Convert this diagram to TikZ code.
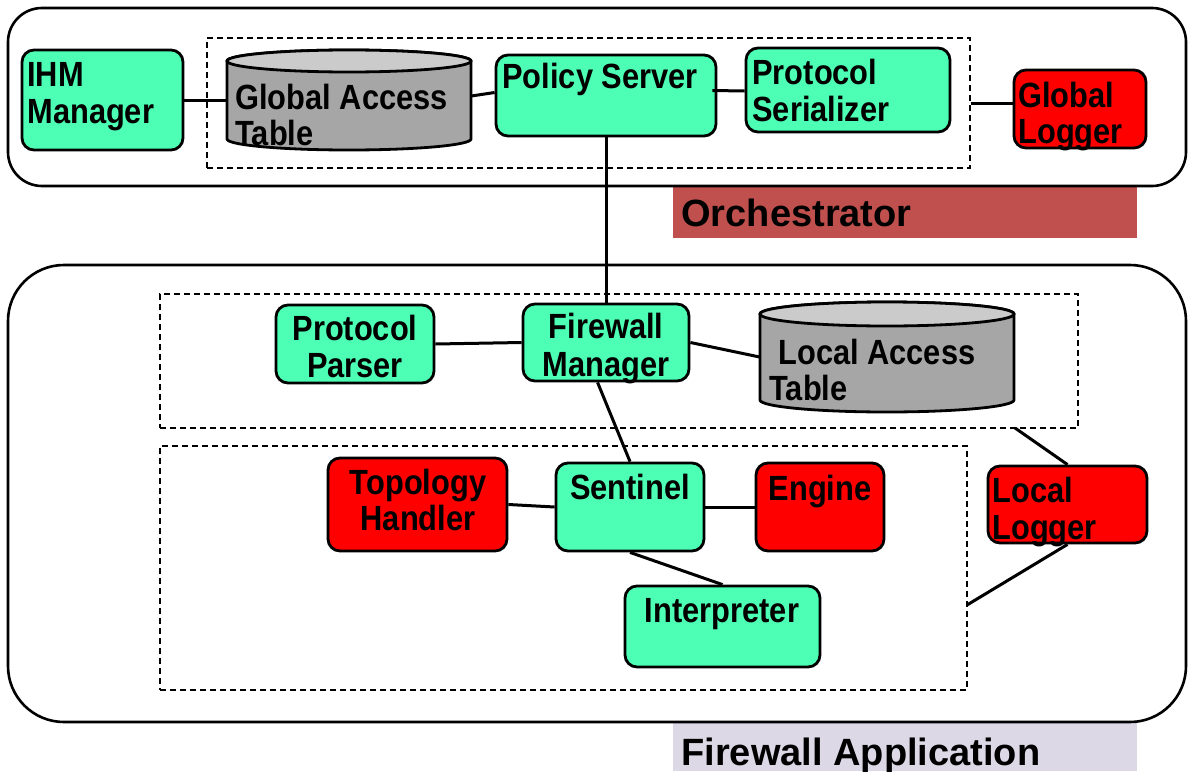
\documentclass[tikz,border=0pt]{standalone}
\usepackage{fontspec}
\setmainfont{Liberation Sans}[FakeStretch=0.88]
\newfontfamily\titlefont{Liberation Sans}
\usetikzlibrary{fit,calc}

\definecolor{mint}{RGB}{77,255,180}
\definecolor{logred}{RGB}{255,0,0}
\definecolor{orchred}{RGB}{192,80,77}
\definecolor{applav}{RGB}{220,216,230}
\definecolor{drumbody}{RGB}{166,166,166}
\definecolor{drumtop}{RGB}{203,203,203}

\begin{document}
\begin{tikzpicture}[x=0.5pt,y=-0.5pt,
  font=\bfseries\fontsize{17.5}{18}\selectfont,
  box/.style={draw=black, line width=1.4pt, rounded corners=6pt, inner sep=0pt},
  gbox/.style={box, fill=mint},
  rbox/.style={box, fill=logred},
  group/.style={draw=black, line width=0.7pt, dash pattern=on 3pt off 2pt, inner sep=0pt},
  shell/.style={draw=black, line width=1.3pt},
  slot/.style={inner sep=0pt},
  txt/.style={inner sep=0pt, anchor=base west},
  ctxt/.style={inner sep=0pt, anchor=base},
  title/.style={inner sep=0pt, anchor=base west, font=\titlefont\bfseries\fontsize{19}{20}\selectfont},
  link/.style={line width=1.5pt},
  drum/.style={draw=black, line width=1.4pt}
]
\useasboundingbox (0,0) rectangle (1188,771);

% ---------- layer labels ----------
\node[slot, fill=orchred, fit={(673,186)(1137,238)}] (orch-lab) {};
\node[title] (orch-title) at (681,226) {Orchestrator};
\node[slot, fill=applav, fit={(673,722)(1137,771)}] (app-lab) {};
\node[title] (app-title) at (681,765) {Firewall Application};

% ---------- outer containers ----------
\draw[shell, rounded corners=17pt] (8,8) rectangle (1186,186);
\draw[shell, rounded corners=28pt] (8,265) rectangle (1186,722);

% ---------- dashed groups ----------
\node[group, fit={(207,38)(970,168)}] (grp-orch) {};
\node[group, fit={(160,294)(1078,428)}] (grp-top) {};
\node[group, fit={(160,446)(967,690)}] (grp-bot) {};

% ---------- orchestrator components ----------
\node[gbox, fit={(22,50)(183,150)}] (ihm) {};
\node[txt] (ihm-l1) at (27,86) {IHM};
\node[txt] (ihm-l2) at (27,123) {Manager};

% global access table (drum)
\node[slot, fit={(227,50)(471,150)}] (gat) {};
\filldraw[drum, fill=drumbody] (227,61) -- (227,139)
  arc[start angle=180, end angle=360, x radius=61pt, y radius=5.5pt]
  -- (471,61)
  arc[start angle=0, end angle=180, x radius=61pt, y radius=5.5pt] -- cycle;
\filldraw[drum, fill=drumtop] (349,61) ellipse[x radius=61pt, y radius=5.5pt];
\node[txt] (gat-l1) at (235,109) {Global Access};
\node[txt] (gat-l2) at (235,145) {Table};

\node[gbox, fit={(496,55)(716,136)}] (ps) {};
\node[txt] (ps-l1) at (502,88) {Policy Server};

\node[gbox, fit={(746,48)(950,132)}] (ser) {};
\node[txt] (ser-l1) at (752,84) {Protocol};
\node[txt] (ser-l2) at (752,121) {Serializer};

\node[rbox, fit={(1014,70)(1146,148)}] (glog) {};
\node[txt] (glog-l1) at (1018,107) {Global};
\node[txt] (glog-l2) at (1018,143) {Logger};

% ---------- firewall application components ----------
\node[gbox, fit={(276,305)(434,383)}] (pp) {};
\node[ctxt] (pp-l1) at (355,340) {Protocol};
\node[ctxt] (pp-l2) at (355,377) {Parser};

\node[gbox, fit={(523,304)(689,381)}] (fm) {};
\node[ctxt] (fm-l1) at (606,338) {Firewall};
\node[ctxt] (fm-l2) at (606,376) {Manager};

% local access table (drum)
\node[slot, fit={(760,302)(1014,412)}] (lat) {};
\filldraw[drum, fill=drumbody] (760,314) -- (760,400)
  arc[start angle=180, end angle=360, x radius=63.5pt, y radius=6pt]
  -- (1014,314)
  arc[start angle=0, end angle=180, x radius=63.5pt, y radius=6pt] -- cycle;
\filldraw[drum, fill=drumtop] (887,314) ellipse[x radius=63.5pt, y radius=6pt];
\node[txt] (lat-l1) at (778,364) {Local Access};
\node[txt] (lat-l2) at (769,400) {Table};

\node[rbox, fit={(328,458)(507,551)}] (topo) {};
\node[ctxt] (topo-l1) at (418,494) {Topology};
\node[ctxt] (topo-l2) at (418,530) {Handler};

\node[gbox, fit={(556,463)(704,551)}] (sen) {};
\node[ctxt] (sen-l1) at (630,499) {Sentinel};

\node[rbox, fit={(756,463)(884,551)}] (eng) {};
\node[ctxt] (eng-l1) at (820,500) {Engine};

\node[rbox, fit={(988,466)(1147,543)}] (llog) {};
\node[txt] (llog-l1) at (992,502) {Local};
\node[txt] (llog-l2) at (992,539) {Logger};

\node[gbox, fit={(625,586)(820,667)}] (int) {};
\node[ctxt] (int-l1) at (722,622) {Interpreter};

% ---------- connectors ----------
\coordinate (top-tap) at (1015,428);
\coordinate (bot-tap) at (967,605);

\draw[link] (ihm.east) -- (gat.west);
\draw[link] ($(gat.east)+(0,-4)$) -- ($(ps.west)+(0,-3)$);
\draw[link] ($(ps.east)+(-5,-5)$) -- ($(ser.west)+(0,1)$);
\draw[link] ($(grp-orch.east)$) -- ($(glog.west)+(0,-6)$);
\draw[link] (ps.south) -- (fm.north);
\draw[link] (pp.east) -- (fm.west);
\draw[link] (fm.east) -- (lat.west);
\draw[link] ($(fm.south west)!0.45!(fm.south east)$) -- (sen.north);
\draw[link] (topo.east) -- (sen.west);
\draw[link] (sen.east) -- (eng.west);
\draw[link] (sen.south) -- (int.north);
\draw[link] (top-tap) -- (llog.north);
\draw[link] (llog.south) -- (bot-tap);
\end{tikzpicture}
\end{document}
